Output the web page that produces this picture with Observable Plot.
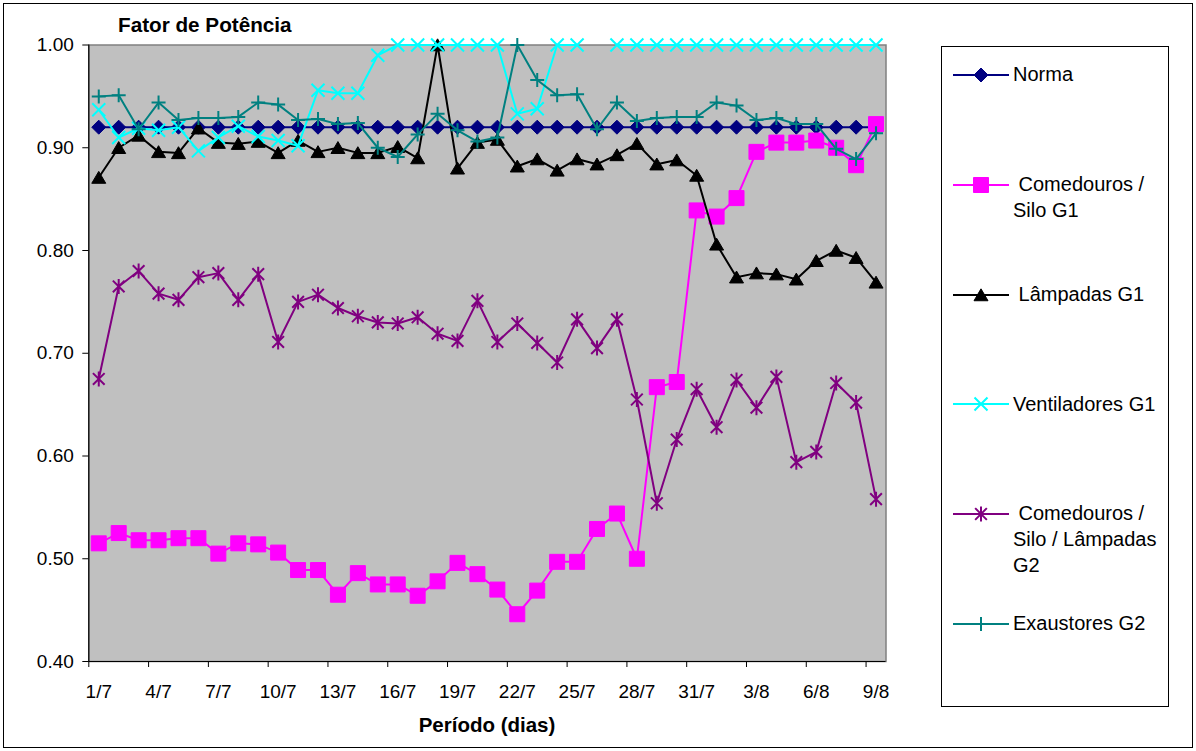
<!DOCTYPE html>
<html>
<head>
<meta charset="utf-8">
<script src="https://cdn.jsdelivr.net/npm/d3@7"></script>
<script src="https://cdn.jsdelivr.net/npm/@observablehq/plot@0.6"></script>
<style>
  body { margin: 0; background: #fff; font-family: "Liberation Sans", Arial, sans-serif; }
  #wrap { position: relative; width: 1196px; height: 751px; overflow: hidden; background: #fff; }
  #wrap > svg { position: absolute; left: 0; top: 0; }
  .abs { position: absolute; white-space: pre; color: #000; }
</style>
</head>
<body>
<div id="wrap"></div>
<script>
// ---------- DATA ----------
const dates = ["1/7","2/7","3/7","4/7","5/7","6/7","7/7","8/7","9/7","10/7",
  "11/7","12/7","13/7","14/7","15/7","16/7","17/7","18/7","19/7","20/7",
  "21/7","22/7","23/7","24/7","25/7","26/7","27/7","28/7","29/7","30/7",
  "31/7","1/8","2/8","3/8","4/8","5/8","6/8","7/8","8/8","9/8"];
const labelIdx = [0,3,6,9,12,15,18,21,24,27,30,33,36,39];
const yTicks = [0.40,0.50,0.60,0.70,0.80,0.90,1.00];

const norma = [0.92,0.92,0.92,0.92,0.92,0.92,0.92,0.92,0.92,0.92,
  0.92,0.92,0.92,0.92,0.92,0.92,0.92,0.92,0.92,0.92,
  0.92,0.92,0.92,0.92,0.92,0.92,0.92,0.92,0.92,0.92,
  0.92,0.92,0.92,0.92,0.92,0.92,0.92,0.92,0.92,0.92];
const comedourosG1 = [0.515,0.525,0.518,0.518,0.520,0.520,0.505,0.515,0.514,0.506,
  0.489,0.489,0.465,0.486,0.475,0.475,0.464,0.478,0.496,0.485,
  0.470,0.446,0.469,0.497,0.497,0.529,0.544,0.500,0.667,0.672,
  0.839,0.833,0.851,0.896,0.905,0.905,0.907,0.900,0.883,0.923];
const lampadasG1 = [0.871,0.900,0.912,0.896,0.895,0.919,0.905,0.904,0.906,0.895,
  0.907,0.896,0.900,0.895,0.895,0.901,0.890,1.000,0.880,0.905,
  0.908,0.882,0.889,0.878,0.889,0.884,0.893,0.904,0.884,0.888,
  0.873,0.806,0.774,0.778,0.777,0.772,0.790,0.800,0.793,0.769];
const ventiladoresG1 = [0.937,0.910,0.919,0.917,0.920,0.897,0.910,0.921,0.911,0.907,
  0.902,0.956,0.953,0.953,0.990,1.000,1.000,1.000,1.000,1.000,
  1.000,0.933,0.938,1.000,1.000,null,1.000,1.000,1.000,1.000,
  1.000,1.000,1.000,1.000,1.000,1.000,1.000,1.000,1.000,1.000];
const comedourosG2 = [0.675,0.765,0.780,0.758,0.752,0.774,0.778,0.752,0.777,0.711,
  0.750,0.757,0.744,0.736,0.730,0.729,0.735,0.719,0.712,0.751,
  0.711,0.729,0.710,0.691,0.733,0.705,0.733,0.655,0.554,0.616,
  0.665,0.628,0.674,0.647,0.677,0.594,0.604,0.671,0.652,0.558];
const exaustoresG2 = [0.950,0.951,0.918,0.944,0.927,0.929,0.929,0.930,0.944,0.942,
  0.927,0.928,0.923,0.924,0.900,0.891,0.913,0.933,0.917,0.906,
  0.910,1.000,0.966,0.951,0.952,0.918,0.944,0.926,0.929,0.930,
  0.930,0.944,0.941,0.927,0.929,0.923,0.923,0.899,0.889,0.914];

const seriesNames = ["Norma", " Comedouros /\nSilo G1", " Lâmpadas G1", "Ventiladores G1",
  " Comedouros /\nSilo / Lâmpadas\nG2", "Exaustores G2"];
const titleText = "Fator de Potência";
const xTitle = "Período (dias)";

// ---------- SYMBOLS (Excel-like markers) ----------
const rOf = size => Math.sqrt(size / Math.PI);
const symbols = {
  diamond: {draw(c, s) { const r = rOf(s); c.moveTo(0, -r); c.lineTo(r, 0); c.lineTo(0, r); c.lineTo(-r, 0); c.closePath(); }},
  square: {draw(c, s) { const r = rOf(s); c.moveTo(-r, -r); c.lineTo(r, -r); c.lineTo(r, r); c.lineTo(-r, r); c.closePath(); }},
  triangle: {draw(c, s) { const r = rOf(s); c.moveTo(0, -0.88 * r); c.lineTo(r, 0.82 * r); c.lineTo(-r, 0.82 * r); c.closePath(); }},
  times: {draw(c, s) { const r = rOf(s); c.moveTo(-r, -r); c.lineTo(r, r); c.moveTo(-r, r); c.lineTo(r, -r); }},
  plus: {draw(c, s) { const r = rOf(s); c.moveTo(-r, 0); c.lineTo(r, 0); c.moveTo(0, -r); c.lineTo(0, r); }},
  star: {draw(c, s) { const r = rOf(s); const d = r * 0.78; c.moveTo(-d, -d); c.lineTo(d, d); c.moveTo(-d, d); c.lineTo(d, -d); c.moveTo(0, -r); c.lineTo(0, r); }}
};

const series = [
  {values: norma, color: "#000080", symbol: symbols.diamond, r: 7, filled: true},
  {values: comedourosG1, color: "#ff00ff", symbol: symbols.square, r: 7.5, filled: true},
  {values: lampadasG1, color: "#000000", symbol: symbols.triangle, r: 7, filled: true},
  {values: ventiladoresG1, color: "#00ffff", symbol: symbols.times, r: 6.5, filled: false},
  {values: comedourosG2, color: "#800080", symbol: symbols.star, r: 7.5, filled: false},
  {values: exaustoresG2, color: "#008080", symbol: symbols.plus, r: 7, filled: false}
];

// ---------- CHART ----------
const idx = d3.range(dates.length);
const boundaryTicks = labelIdx.map(i => i - 0.5);

const seriesMarks = series.flatMap(s => [
  Plot.line(idx, {x: i => i, y: i => s.values[i], stroke: s.color, strokeWidth: 2, strokeLinejoin: "miter"}),
  Plot.dot(idx, {x: i => i, y: i => s.values[i], symbol: s.symbol, r: s.r,
    fill: s.filled ? s.color : "none", stroke: s.color, strokeWidth: s.filled ? 1 : 2})
]);

const chart = Plot.plot({
  width: 940,
  height: 751,
  marginLeft: 88.3,
  marginRight: 54.5,
  marginTop: 44.5,
  marginBottom: 90,
  style: {fontFamily: "'Liberation Sans', Arial, sans-serif", fontSize: "19px", color: "#000", background: "transparent", overflow: "visible"},
  x: {domain: [-0.5, dates.length - 0.5]},
  y: {domain: [0.4, 1.0]},
  marks: [
    Plot.frame({fill: "#c0c0c0", stroke: "#808080", strokeWidth: 1.5}),
    Plot.axisY({ticks: yTicks, tickFormat: d => d.toFixed(2), tickSize: 6, tickPadding: 9, label: null, fontSize: 19}),
    Plot.axisX({ticks: boundaryTicks, tickFormat: () => "", tickSize: 6, label: null}),
    Plot.axisX({ticks: labelIdx, tickFormat: i => dates[i], tickSize: 0, tickPadding: 23, label: null, fontSize: 19}),
    Plot.ruleX([-0.5], {stroke: "#000", strokeWidth: 1.2}),
    Plot.ruleY([0.4], {stroke: "#000", strokeWidth: 1.2}),
    ...seriesMarks
  ]
});

const wrap = document.getElementById("wrap");
wrap.appendChild(chart);

// title
const title = document.createElement("div");
title.className = "abs";
title.textContent = titleText;
title.style.cssText += "left:118px;top:12px;font-size:20.7px;line-height:25px;font-weight:bold;";
wrap.appendChild(title);

// x axis title
const xt = document.createElement("div");
xt.className = "abs";
xt.textContent = xTitle;
xt.style.cssText += "left:88px;width:798px;text-align:center;top:713px;font-size:20.5px;line-height:24px;font-weight:bold;";
wrap.appendChild(xt);

// legend
const box = document.createElement("div");
box.style.cssText = "position:absolute;left:941px;top:46px;width:226px;height:659px;border:1px solid #000;background:#fff;";
wrap.appendChild(box);
const rowY = [75, 184.8, 294.6, 404.4, 514.2, 624];
series.forEach((s, k) => {
  const y = rowY[k];
  const key = d3.create("svg").attr("width", 60).attr("height", 20)
    .style("position", "absolute").style("left", "953px").style("top", (y - 10) + "px").style("overflow", "visible");
  key.append("line").attr("x1", 0).attr("x2", 56).attr("y1", 10).attr("y2", 10)
    .attr("stroke", s.color).attr("stroke-width", 2);
  key.append("path").attr("transform", "translate(28,10)")
    .attr("d", d3.symbol(s.symbol, s.r * s.r * Math.PI)())
    .attr("fill", s.filled ? s.color : "none").attr("stroke", s.color).attr("stroke-width", s.filled ? 1 : 2);
  wrap.appendChild(key.node());
  const t = document.createElement("div");
  t.className = "abs";
  t.textContent = seriesNames[k];
  t.style.cssText += `left:1013px;top:${y - 12.9}px;font-size:20px;line-height:25.8px;`;
  wrap.appendChild(t);
});

// outer border
const border = document.createElement("div");
border.style.cssText = "position:absolute;left:3px;top:3px;width:1188px;height:743px;border:1px solid #000;pointer-events:none;";
wrap.appendChild(border);
</script>
</body>
</html>
